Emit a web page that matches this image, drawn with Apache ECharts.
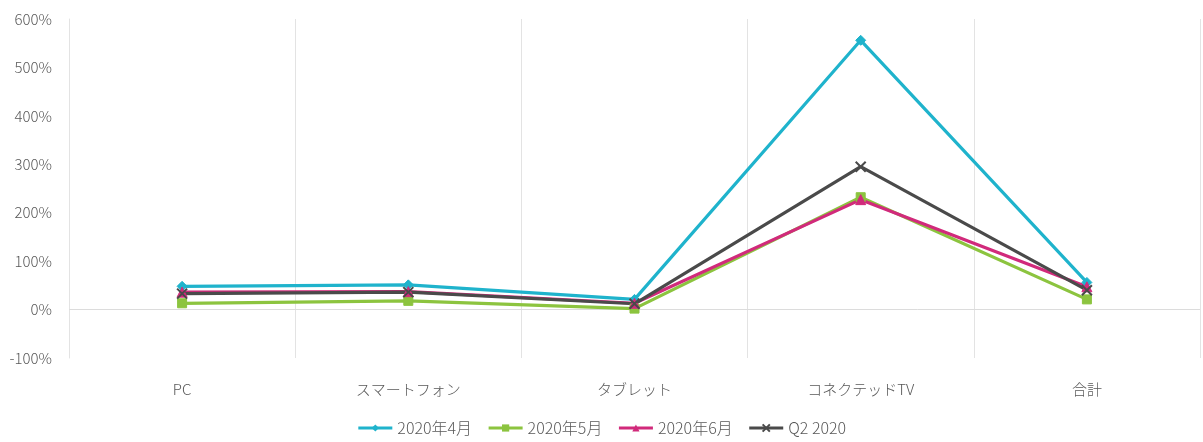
<!DOCTYPE html>
<html>
<head>
<meta charset="utf-8">
<script src="https://cdn.jsdelivr.net/npm/echarts@6/dist/echarts.min.js"></script>
<style>
  html, body { margin: 0; padding: 0; background: #ffffff; }
  #chart { width: 1203px; height: 442px; }
</style>
</head>
<body>
<div id="chart"></div>
<script>
// Device categories on the x axis
const categories = ['PC', 'スマートフォン', 'タブレット', 'コネクテッドTV', '合計'];

// Growth rates (%) per period
const april = [48, 51, 21, 556, 56];
const may = [13, 18, 2, 232, 21];
const june = [36, 37, 13, 227, 47];
const q2 = [33, 36, 12, 295, 40];

const seriesNames = ['2020年4月', '2020年5月', '2020年6月', 'Q2 2020'];

// Y axis range and step (%)
const yMin = -100;
const yMax = 600;
const yStep = 100;

const xMark = 'path://M0,0 L10,10 M10,0 L0,10';

const font = '"Noto Sans CJK JP", "Noto Sans", sans-serif';

function lineSeries(name, data, color, symbol, size, extra) {
  return Object.assign({
    name: name,
    type: 'line',
    data: data,
    symbol: symbol,
    symbolSize: size,
    showSymbol: true,
    lineStyle: { color: color, width: 3.2 },
    itemStyle: { color: color, borderColor: color },
    emphasis: { disabled: true },
    z: 3
  }, extra || {});
}

const chart = echarts.init(document.getElementById('chart'), null, { renderer: 'canvas' });
chart.setOption({
  animation: false,
  backgroundColor: '#ffffff',
  textStyle: { fontFamily: font },
  grid: { left: 69, right: 3, top: 19, bottom: 84 },
  legend: {
    bottom: 1,
    left: 'center',
    itemWidth: 34,
    itemHeight: 9,
    itemGap: 15,
    lineStyle: { width: 3 },
    textStyle: { color: '#595959', fontSize: 16, fontWeight: 300, fontFamily: font },
    data: seriesNames
  },
  xAxis: {
    type: 'category',
    data: categories,
    boundaryGap: true,
    axisLine: { show: false, onZero: false },
    axisTick: { show: false },
    axisLabel: { color: '#595959', fontSize: 15, fontWeight: 300, margin: 24, fontFamily: font },
    splitLine: { show: true, lineStyle: { color: '#e3e3e3', width: 1 } }
  },
  yAxis: {
    type: 'value',
    min: yMin,
    max: yMax,
    interval: yStep,
    axisLine: { show: true, lineStyle: { color: '#e3e3e3', width: 1 } },
    axisTick: { show: false },
    splitLine: { show: false },
    axisLabel: {
      color: '#595959',
      fontSize: 15,
      fontWeight: 300,
      margin: 17,
      fontFamily: font,
      formatter: function (v) { return v + '%'; }
    }
  },
  series: [
    lineSeries(seriesNames[0], april, '#1fb3cc', 'diamond', 10, {
      markLine: {
        silent: true,
        symbol: 'none',
        label: { show: false },
        lineStyle: { color: '#dcdcdc', width: 1, type: 'solid' },
        data: [{ yAxis: 0 }],
        z: 1
      }
    }),
    lineSeries(seriesNames[1], may, '#8cc43f', 'rect', 9),
    lineSeries(seriesNames[2], june, '#d12a7b', 'triangle', 10),
    lineSeries(seriesNames[3], q2, '#4a4a4a', xMark, 10, {
      itemStyle: { color: 'none', borderColor: '#4a4a4a', borderWidth: 2 }
    })
  ]
});
</script>
</body>
</html>
